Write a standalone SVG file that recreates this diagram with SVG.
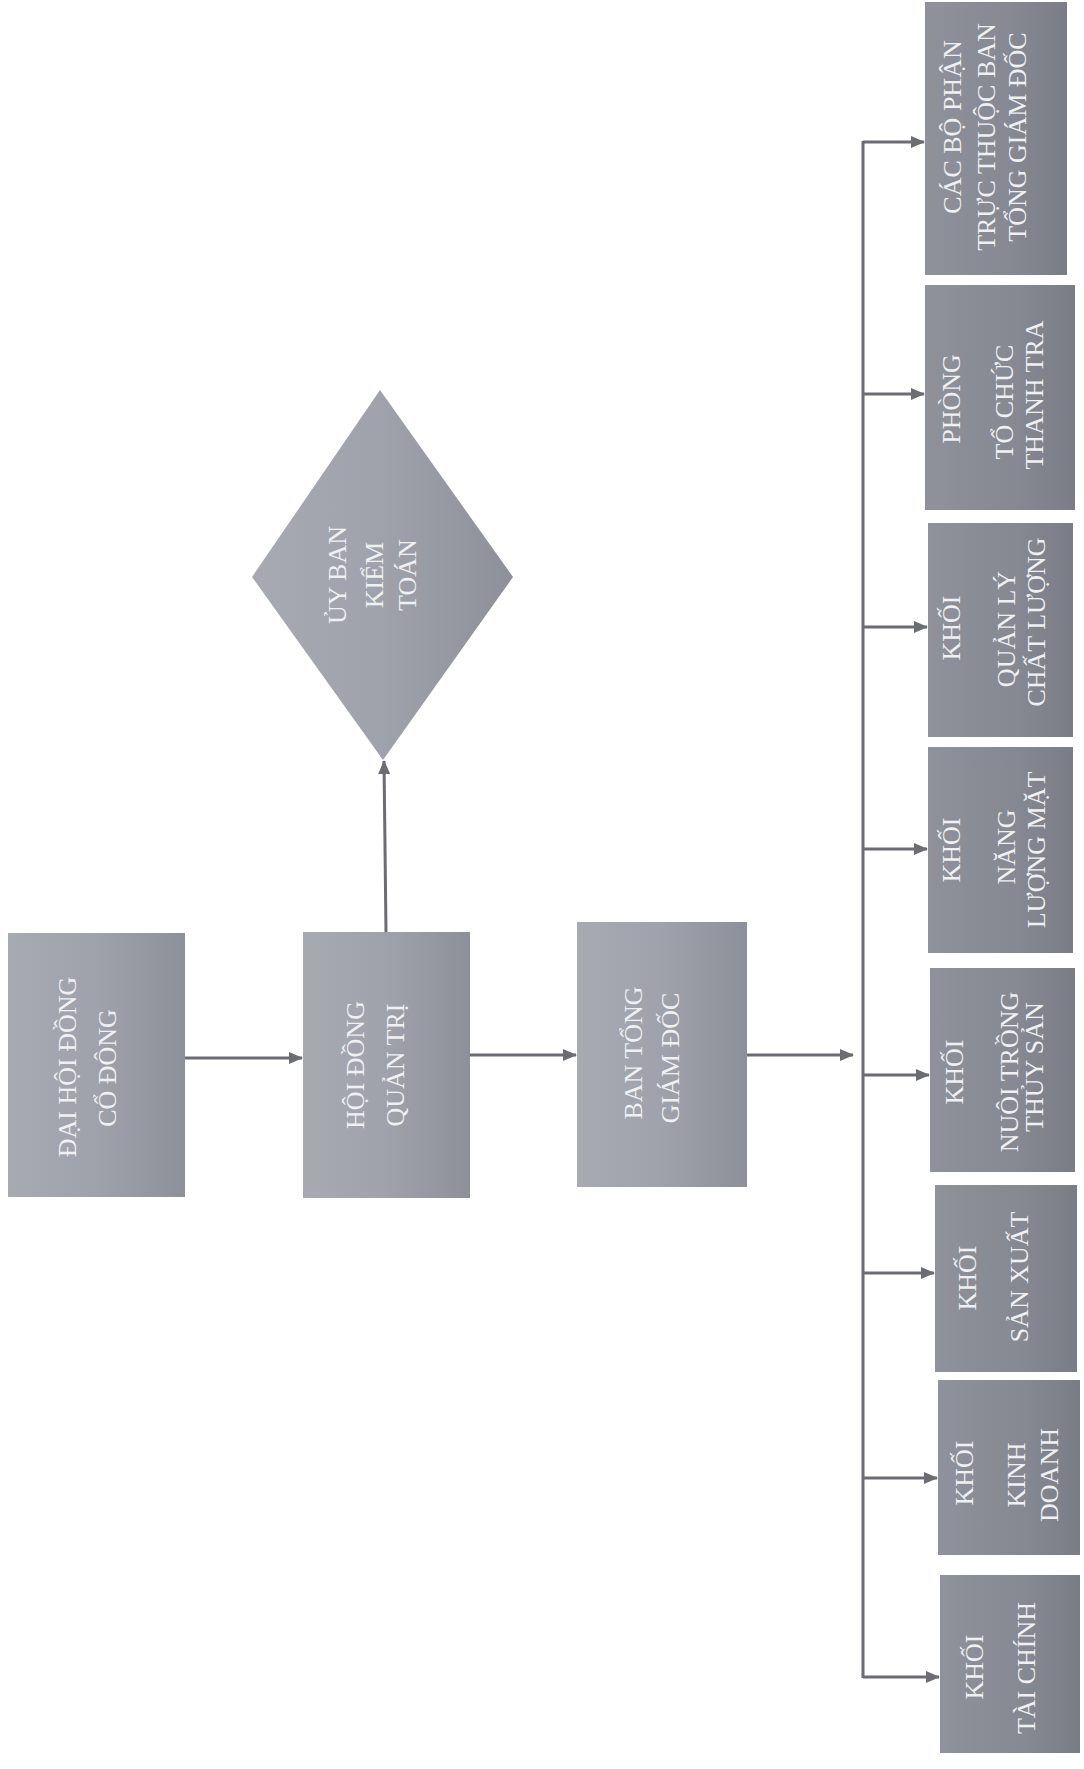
<svg xmlns="http://www.w3.org/2000/svg" width="1084" height="1769" viewBox="0 0 1084 1769">
<defs>
<linearGradient id="gMain" x1="0" y1="0" x2="1" y2="0">
<stop offset="0" stop-color="#a7aab1"/>
<stop offset="0.5" stop-color="#a0a2ab"/>
<stop offset="1" stop-color="#8e9099"/>
</linearGradient>
<linearGradient id="gSide" x1="0" y1="0" x2="1" y2="0">
<stop offset="0" stop-color="#8f929a"/>
<stop offset="0.6" stop-color="#868892"/>
<stop offset="1" stop-color="#7a7c86"/>
</linearGradient>
<marker id="arr" markerWidth="14" markerHeight="12" refX="13" refY="6" orient="auto" markerUnits="userSpaceOnUse">
<path d="M0,0 L14,6 L0,12 Z" fill="#6b6d72"/>
</marker>
</defs>
<style>
.box{fill:url(#gMain);}
.side{fill:url(#gSide);}
.t{font-family:"Liberation Serif","DejaVu Serif",serif;font-size:26px;fill:#eef0f2;text-anchor:middle;}
.c{stroke:#6b6d72;stroke-width:3;fill:none;}
</style>
<rect width="1084" height="1769" fill="#ffffff"/>

<g id="connectors">
<line class="c" x1="185" y1="1058" x2="302" y2="1058" marker-end="url(#arr)"/>
<line class="c" x1="470" y1="1055" x2="576" y2="1055" marker-end="url(#arr)"/>
<line class="c" x1="747" y1="1055" x2="853" y2="1055" marker-end="url(#arr)"/>
<line class="c" x1="386" y1="932" x2="384" y2="761" marker-end="url(#arr)"/>
<line class="c" x1="863" y1="141" x2="863" y2="1678"/>
<line class="c" x1="863" y1="142" x2="924" y2="142" marker-end="url(#arr)"/>
<line class="c" x1="863" y1="394" x2="924" y2="394" marker-end="url(#arr)"/>
<line class="c" x1="863" y1="627" x2="927" y2="627" marker-end="url(#arr)"/>
<line class="c" x1="863" y1="849" x2="927" y2="849" marker-end="url(#arr)"/>
<line class="c" x1="863" y1="1075" x2="929" y2="1075" marker-end="url(#arr)"/>
<line class="c" x1="863" y1="1273" x2="934" y2="1273" marker-end="url(#arr)"/>
<line class="c" x1="863" y1="1478" x2="937" y2="1478" marker-end="url(#arr)"/>
<line class="c" x1="863" y1="1677" x2="939" y2="1677" marker-end="url(#arr)"/>
</g>

<g id="dhdcd">
<rect class="box" x="8" y="933" width="177" height="264"/>
<text class="t" transform="translate(76,1067) rotate(-90)">ĐẠI HỘI ĐỒNG</text>
<text class="t" transform="translate(116,1068) rotate(-90)">CỔ ĐÔNG</text>
</g>

<g id="hdqt">
<rect class="box" x="303" y="932" width="167" height="266"/>
<text class="t" transform="translate(364,1065) rotate(-90)">HỘI ĐỒNG</text>
<text class="t" transform="translate(404,1065) rotate(-90)">QUẢN TRỊ</text>
</g>

<g id="btgd">
<rect class="box" x="577" y="922" width="170" height="265"/>
<text class="t" transform="translate(642,1053) rotate(-90)">BAN TỔNG</text>
<text class="t" transform="translate(679,1058) rotate(-90)">GIÁM ĐỐC</text>
</g>

<g id="ubkt">
<polygon class="box" points="380,390 513,577 383,760 252,577"/>
<text class="t" transform="translate(346,575) rotate(-90)">ỦY BAN</text>
<text class="t" transform="translate(383,575) rotate(-90)">KIỂM</text>
<text class="t" transform="translate(416,575) rotate(-90)">TOÁN</text>
</g>

<g id="cacbophan">
<rect class="side" x="925" y="2" width="142" height="273"/>
<text class="t" transform="translate(961,127) rotate(-90)">CÁC BỘ PHẬN</text>
<text class="t" transform="translate(995,137) rotate(-90)">TRỰC THUỘC BAN</text>
<text class="t" transform="translate(1026,137) rotate(-90)">TỔNG GIÁM ĐỐC</text>
</g>

<g id="phong">
<rect class="side" x="925" y="285" width="150" height="225"/>
<text class="t" transform="translate(960,399) rotate(-90)">PHÒNG</text>
<text class="t" transform="translate(1013,402) rotate(-90)">TỔ CHỨC</text>
<text class="t" transform="translate(1043,395) rotate(-90)">THANH TRA</text>
</g>

<g id="qlcl">
<rect class="side" x="928" y="523" width="145" height="214"/>
<text class="t" transform="translate(960,628) rotate(-90)">KHỐI</text>
<text class="t" transform="translate(1015,629) rotate(-90)">QUẢN LÝ</text>
<text class="t" transform="translate(1045,622) rotate(-90)">CHẤT LƯỢNG</text>
</g>

<g id="nlmt">
<rect class="side" x="928" y="747" width="145" height="206"/>
<text class="t" transform="translate(960,850) rotate(-90)">KHỐI</text>
<text class="t" transform="translate(1015,847) rotate(-90)">NĂNG</text>
<text class="t" transform="translate(1045,850) rotate(-90)">LƯỢNG MẶT</text>
</g>

<g id="ntts">
<rect class="side" x="930" y="968" width="145" height="204"/>
<text class="t" transform="translate(963,1072) rotate(-90)">KHỐI</text>
<text class="t" transform="translate(1018,1072) rotate(-90)">NUÔI TRỒNG</text>
<text class="t" transform="translate(1043,1067) rotate(-90)">THỦY SẢN</text>
</g>

<g id="sx">
<rect class="side" x="935" y="1185" width="142" height="187"/>
<text class="t" transform="translate(976,1278) rotate(-90)">KHỐI</text>
<text class="t" transform="translate(1028,1277) rotate(-90)">SẢN XUẤT</text>
</g>

<g id="kd">
<rect class="side" x="938" y="1380" width="142" height="175"/>
<text class="t" transform="translate(973,1473) rotate(-90)">KHỐI</text>
<text class="t" transform="translate(1025,1475) rotate(-90)">KINH</text>
<text class="t" transform="translate(1058,1475) rotate(-90)">DOANH</text>
</g>

<g id="tc">
<rect class="side" x="940" y="1575" width="140" height="178"/>
<text class="t" transform="translate(983,1667) rotate(-90)">KHỐI</text>
<text class="t" transform="translate(1035,1668) rotate(-90)">TÀI CHÍNH</text>
</g>
</svg>
